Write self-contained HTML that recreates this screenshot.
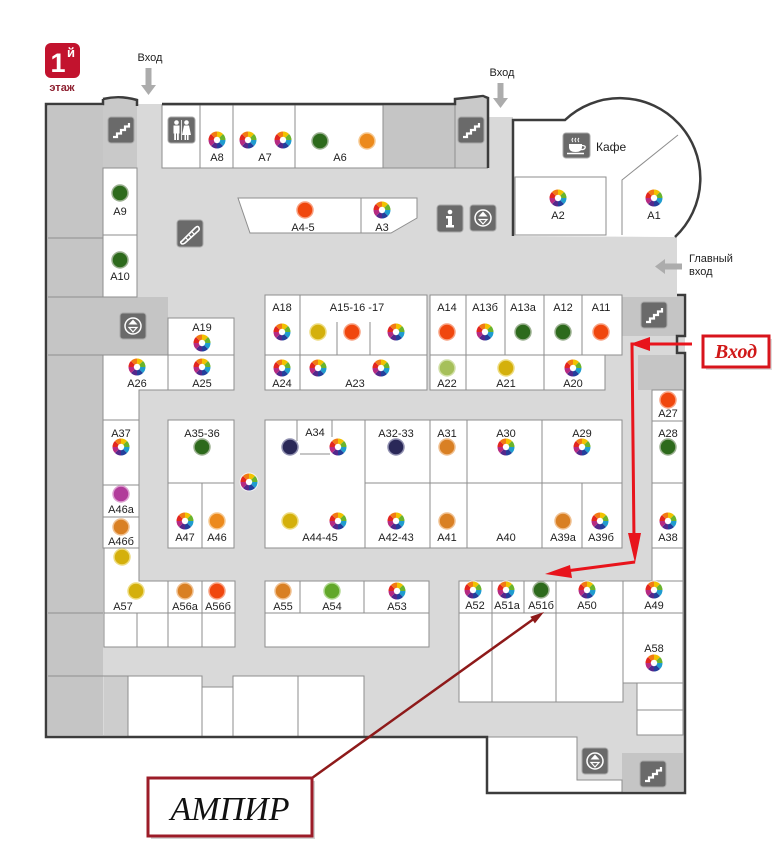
<!DOCTYPE html>
<html><head><meta charset="utf-8">
<style>
body{margin:0;background:#fff;}
svg{display:block}
.s{fill:#fff;stroke:#8e8e8e;stroke-width:1}
.l{stroke:#8e8e8e;stroke-width:1;fill:none}
.g{fill:#c5c5c5}
.t{font-family:"Liberation Sans",sans-serif;font-size:11px;fill:#1e1e1e;text-anchor:middle}
.w{fill:none;stroke:#3c3c3c;stroke-width:2.5;stroke-linejoin:miter}
</style></head>
<body>
<svg width="777" height="850" viewBox="0 0 777 850" xmlns="http://www.w3.org/2000/svg">
<defs>
<g id="cw">
<circle r="9.5" fill="#fff" opacity="0.7"/>
<path d="M0,0 L0,-8.5 A8.5,8.5 0 0 1 6.01,-6.01Z" fill="#f2c200"/>
<path d="M0,0 L6.01,-6.01 A8.5,8.5 0 0 1 8.5,0Z" fill="#6ab42c"/>
<path d="M0,0 L8.5,0 A8.5,8.5 0 0 1 6.01,6.01Z" fill="#1f9ccf"/>
<path d="M0,0 L6.01,6.01 A8.5,8.5 0 0 1 0,8.5Z" fill="#233f9c"/>
<path d="M0,0 L0,8.5 A8.5,8.5 0 0 1 -6.01,6.01Z" fill="#55288c"/>
<path d="M0,0 L-6.01,6.01 A8.5,8.5 0 0 1 -8.5,0Z" fill="#b62a82"/>
<path d="M0,0 L-8.5,0 A8.5,8.5 0 0 1 -6.01,-6.01Z" fill="#e3261f"/>
<path d="M0,0 L-6.01,-6.01 A8.5,8.5 0 0 1 0,-8.5Z" fill="#f27a14"/>
<circle r="3.2" fill="#fff"/>
</g>
<g id="st"><rect x="0" y="0" width="26" height="26" rx="3" fill="#6a6a6a" stroke="#a8a8a8" stroke-width="1"/><path d="M5,20 H9 V16.5 H13 V13 H17 V9.5 H21 V6" fill="none" stroke="#fff" stroke-width="2.2"/></g>
<g id="ud"><rect width="26" height="26" rx="3" fill="#6a6a6a" stroke="#a8a8a8"/><circle cx="13" cy="13" r="8" fill="none" stroke="#fff" stroke-width="1.5"/><path d="M8.5,11.5 L13,6.5 L17.5,11.5Z" fill="#fff"/><path d="M9,14.5 L13,19 L17,14.5Z" fill="none" stroke="#fff" stroke-width="1.2"/></g>
</defs>

<rect width="777" height="850" fill="#fff"/>

<!-- corridor -->
<path d="M46,104 H488 V117 H513 V235 L677,237 V295 H685 V793 H487 V737 H46 Z" fill="#d9d9d9"/>

<!-- gray rooms -->
<rect x="48" y="106" width="55" height="629" class="g"/>
<rect x="103" y="99" width="34" height="69" fill="#c9c9c9"/>
<rect x="383" y="105" width="72" height="63" class="g"/>
<rect x="455" y="98" width="33" height="70" fill="#c9c9c9"/>
<rect x="103" y="297" width="65" height="58" class="g"/>
<rect x="622" y="297" width="61" height="39" class="g"/>
<rect x="638" y="355" width="45" height="35" class="g"/>
<rect x="622" y="753" width="61" height="38" class="g"/>
<rect x="104" y="676" width="24" height="59" fill="#cdcdcd"/>
<g class="l" stroke="#a5a5a5">
<line x1="48" y1="238" x2="103" y2="238"/>
<line x1="48" y1="297" x2="103" y2="297"/>
<line x1="48" y1="355" x2="103" y2="355"/>
<line x1="48" y1="613" x2="103" y2="613"/>
<line x1="48" y1="676" x2="128" y2="676"/>
<line x1="103" y1="168" x2="137" y2="168"/>
<line x1="383" y1="105" x2="383" y2="168"/>
<line x1="455" y1="104" x2="455" y2="168"/>
<line x1="383" y1="168" x2="488" y2="168"/>
</g>

<!-- top row shops -->
<rect x="162" y="105" width="221" height="63" class="s"/>
<line x1="200" y1="105" x2="200" y2="168" class="l"/>
<line x1="233" y1="105" x2="233" y2="168" class="l"/>
<line x1="295" y1="105" x2="295" y2="168" class="l"/>
<rect x="103" y="168" width="34" height="67" class="s"/>
<rect x="103" y="235" width="34" height="62" class="s"/>

<!-- island -->
<path d="M238,198 H417 V218 L391,233 H250 Z" class="s"/>
<line x1="361" y1="198" x2="361" y2="233" class="l"/>

<!-- cafe -->
<path d="M513,236 V120 H565 A80,80 0 1 1 675,237 Z" fill="#fff"/>
<rect x="515" y="177" width="91" height="58" class="s"/>
<path d="M622,235 V180 L678,135" class="l"/>

<!-- mid top blocks -->
<rect x="265" y="295" width="162" height="95" class="s"/>
<line x1="265" y1="355" x2="427" y2="355" class="l"/>
<line x1="300" y1="295" x2="300" y2="390" class="l"/>
<line x1="337" y1="322" x2="337" y2="355" class="l"/>
<line x1="370" y1="322" x2="370" y2="355" class="l"/>
<path d="M430,295 H622 V355 H605 V390 H430 Z" class="s"/>
<line x1="430" y1="355" x2="622" y2="355" class="l"/>
<line x1="466" y1="295" x2="466" y2="390" class="l"/>
<line x1="505" y1="295" x2="505" y2="355" class="l"/>
<line x1="544" y1="295" x2="544" y2="390" class="l"/>
<line x1="582" y1="295" x2="582" y2="355" class="l"/>

<!-- left shops -->
<rect x="168" y="318" width="66" height="37" class="s"/>
<rect x="168" y="355" width="66" height="35" class="s"/>
<path d="M103,355 H168 V390 H139 V420 H103 Z" class="s"/>
<rect x="103" y="420" width="36" height="65" class="s"/>
<rect x="103" y="485" width="36" height="32" class="s"/>
<rect x="103" y="517" width="36" height="31" class="s"/>
<rect x="168" y="420" width="66" height="63" class="s"/>
<rect x="168" y="483" width="34" height="65" class="s"/>
<rect x="202" y="483" width="32" height="65" class="s"/>

<!-- center lower block -->
<rect x="265" y="420" width="357" height="128" class="s"/>
<line x1="365" y1="420" x2="365" y2="548" class="l"/>
<line x1="365" y1="483" x2="622" y2="483" class="l"/>
<line x1="430" y1="420" x2="430" y2="548" class="l"/>
<line x1="467" y1="420" x2="467" y2="548" class="l"/>
<line x1="542" y1="420" x2="542" y2="548" class="l"/>
<line x1="582" y1="483" x2="582" y2="548" class="l"/>
<line x1="297" y1="420" x2="297" y2="441" class="l"/>
<line x1="332" y1="420" x2="332" y2="437" class="l"/>
<line x1="300" y1="454" x2="330" y2="454" class="l"/>

<!-- right column -->
<rect x="652" y="390" width="31" height="158" class="s"/>
<line x1="652" y1="421" x2="683" y2="421" class="l"/>
<line x1="652" y1="483" x2="683" y2="483" class="l"/>
<rect x="652" y="548" width="31" height="33" class="s"/>

<!-- bottom left -->
<path d="M104,548 H139 V581 H235 V647 H104 Z" class="s"/>
<line x1="104" y1="613" x2="235" y2="613" class="l"/>
<line x1="168" y1="581" x2="168" y2="647" class="l"/>
<line x1="202" y1="581" x2="202" y2="647" class="l"/>
<line x1="137" y1="613" x2="137" y2="647" class="l"/>
<rect x="265" y="581" width="164" height="66" class="s"/>
<line x1="265" y1="613" x2="429" y2="613" class="l"/>
<line x1="300" y1="581" x2="300" y2="613" class="l"/>
<line x1="364" y1="581" x2="364" y2="613" class="l"/>
<rect x="128" y="676" width="74" height="61" class="s"/>
<rect x="202" y="687" width="31" height="50" class="s"/>
<rect x="233" y="676" width="65" height="61" class="s"/>
<rect x="298" y="676" width="66" height="61" class="s"/>

<!-- bottom right -->
<rect x="459" y="581" width="224" height="32" class="s"/>
<line x1="492" y1="581" x2="492" y2="613" class="l"/>
<line x1="524" y1="581" x2="524" y2="613" class="l"/>
<line x1="556" y1="581" x2="556" y2="613" class="l"/>
<line x1="623" y1="581" x2="623" y2="613" class="l"/>
<rect x="459" y="613" width="164" height="89" class="s"/>
<line x1="492" y1="613" x2="492" y2="702" class="l"/>
<line x1="556" y1="613" x2="556" y2="702" class="l"/>
<rect x="623" y="613" width="60" height="70" class="s"/>
<rect x="637" y="683" width="46" height="27" class="s"/>
<rect x="637" y="710" width="46" height="25" class="s"/>
<path d="M487,737 H577 V780 H622 V793 H487 Z" class="s"/>

<!-- walls -->
<path class="w" d="M103,99 V104 H46 V737 H487 V793 H685 V353 H677 V336 H685 V295 H677"/>
<path class="w" d="M103,99 Q120,95 137,100 V106"/>
<path class="w" d="M162,104 H455 V99 L483,96 L488,98 V168"/>
<path class="w" d="M513,236 V120 H565 A80,80 0 1 1 675,237"/>

<!-- icons -->
<use href="#st" x="108" y="117"/>
<use href="#st" x="458" y="117"/>
<use href="#st" x="641" y="302"/>
<use href="#st" x="640" y="761"/>
<use href="#ud" x="470" y="205"/>
<use href="#ud" x="120" y="313"/>
<use href="#ud" x="582" y="748"/>
<!-- WC -->
<g transform="translate(168,117)">
<rect width="27" height="26" rx="3" fill="#6a6a6a" stroke="#a8a8a8"/>
<circle cx="8.5" cy="5.5" r="2.3" fill="#fff"/><rect x="5.5" y="8.5" width="6" height="8" fill="#fff"/><rect x="6.2" y="16" width="1.8" height="7" fill="#fff"/><rect x="9" y="16" width="1.8" height="7" fill="#fff"/>
<circle cx="18.5" cy="5.5" r="2.3" fill="#fff"/><path d="M16,8.5 H21 L23,18 H14 Z" fill="#fff"/><rect x="16.5" y="17" width="1.6" height="6" fill="#fff"/><rect x="19" y="17" width="1.6" height="6" fill="#fff"/>
<line x1="13.5" y1="3" x2="13.5" y2="23" stroke="#fff" stroke-width="0.8"/>
</g>
<!-- escalator -->
<g transform="translate(177,220)">
<rect width="26" height="27" rx="3" fill="#6a6a6a" stroke="#a8a8a8"/>
<path d="M5,21 L18,8 Q21,5 22,8 Q23,10 20,12 L8,23 Q5,25 4,23 Q3,22 5,21Z" fill="none" stroke="#fff" stroke-width="1.6"/>
<path d="M9,18 L11,20 M12,15 L14,17 M15,12 L17,14" stroke="#fff" stroke-width="1.2"/>
</g>
<!-- info -->
<g transform="translate(437,205)">
<rect width="26" height="27" rx="3" fill="#6a6a6a" stroke="#a8a8a8"/>
<circle cx="13" cy="7" r="2.3" fill="#fff"/>
<path d="M9,11 H15 V20 H17 V22.5 H9 V20 H11 V13.5 H9 Z" fill="#fff"/>
</g>
<!-- coffee -->
<g transform="translate(563,133)">
<rect width="27" height="25" rx="3" fill="#6a6a6a" stroke="#a8a8a8"/>
<path d="M6,11 H19 V14 Q19,19 12.5,19 Q6,19 6,14 Z" fill="#fff"/>
<path d="M19,12.5 Q23,12.5 22,15 Q21,17 18,16.5" fill="none" stroke="#fff" stroke-width="1.3"/>
<path d="M4,20.5 H21" stroke="#fff" stroke-width="1.5"/>
<path d="M10,9 Q8,7 10,5 M13,9 Q11,7 13,5 M16,9 Q14,7 16,5" fill="none" stroke="#fff" stroke-width="1"/>
</g>

<!-- floor badge -->
<rect x="45" y="43" width="35" height="35" rx="6" fill="#c2132e"/>
<text x="58" y="72" font-family="Liberation Sans,sans-serif" font-weight="bold" font-size="27" fill="#fff" text-anchor="middle">1</text>
<text x="71" y="57" font-family="Liberation Sans,sans-serif" font-weight="bold" font-size="13" fill="#fff" text-anchor="middle">й</text>
<text x="62" y="91" font-family="Liberation Sans,sans-serif" font-weight="bold" font-size="11" fill="#8e2030" text-anchor="middle">этаж</text>

<!-- entrance labels and gray arrows -->
<text x="150" y="61" class="t" font-size="11">Вход</text>
<path d="M145.5,68 H151.5 V85 H156 L148.5,95 L141,85 H145.5 Z" fill="#acacac"/>
<text x="502" y="76" class="t" font-size="11">Вход</text>
<path d="M497.5,83 H503.5 V98 H508 L500.5,108 L493,98 H497.5 Z" fill="#acacac"/>
<text x="689" y="262" font-family="Liberation Sans,sans-serif" font-size="11" fill="#1e1e1e">Главный</text>
<text x="689" y="275" font-family="Liberation Sans,sans-serif" font-size="11" fill="#1e1e1e">вход</text>
<path d="M682,263.5 V269.5 H665 V274 L655,266.5 L665,259 V263.5 Z" fill="#acacac"/>
<text x="596" y="151" font-family="Liberation Sans,sans-serif" font-size="12" fill="#1e1e1e">Кафе</text>

<!-- dots: color wheels -->
<use href="#cw" x="217" y="140"/>
<use href="#cw" x="248" y="140"/>
<use href="#cw" x="283" y="140"/>
<use href="#cw" x="382" y="210"/>
<use href="#cw" x="558" y="198"/>
<use href="#cw" x="654" y="198"/>
<use href="#cw" x="282" y="332"/>
<use href="#cw" x="396" y="332"/>
<use href="#cw" x="282" y="368"/>
<use href="#cw" x="318" y="368"/>
<use href="#cw" x="381" y="368"/>
<use href="#cw" x="485" y="332"/>
<use href="#cw" x="573" y="368"/>
<use href="#cw" x="202" y="343"/>
<use href="#cw" x="137" y="367"/>
<use href="#cw" x="202" y="367"/>
<use href="#cw" x="121" y="447"/>
<use href="#cw" x="185" y="521"/>
<use href="#cw" x="249" y="482"/>
<use href="#cw" x="338" y="447"/>
<use href="#cw" x="338" y="521"/>
<use href="#cw" x="396" y="521"/>
<use href="#cw" x="506" y="447"/>
<use href="#cw" x="582" y="447"/>
<use href="#cw" x="600" y="521"/>
<use href="#cw" x="668" y="521"/>
<use href="#cw" x="397" y="591"/>
<use href="#cw" x="473" y="590"/>
<use href="#cw" x="506" y="590"/>
<use href="#cw" x="587" y="590"/>
<use href="#cw" x="654" y="590"/>
<use href="#cw" x="654" y="663"/>

<!-- solid dots -->
<g stroke-width="1.5">
<circle cx="320" cy="141" r="8" fill="#2d6a1c" stroke="#9bb090"/>
<circle cx="367" cy="141" r="8" fill="#ec8a1c" stroke="#f6c890"/>
<circle cx="120" cy="193" r="8" fill="#2d6a1c" stroke="#9bb090"/>
<circle cx="120" cy="260" r="8" fill="#2d6a1c" stroke="#9bb090"/>
<circle cx="305" cy="210" r="8" fill="#f0470e" stroke="#f8a080"/>
<circle cx="318" cy="332" r="8" fill="#d4b00c" stroke="#eedc80"/>
<circle cx="352" cy="332" r="8" fill="#f0470e" stroke="#f8a080"/>
<circle cx="447" cy="332" r="8" fill="#f0470e" stroke="#f8a080"/>
<circle cx="523" cy="332" r="8" fill="#2d6a1c" stroke="#9bb090"/>
<circle cx="563" cy="332" r="8" fill="#2d6a1c" stroke="#9bb090"/>
<circle cx="601" cy="332" r="8" fill="#f0470e" stroke="#f8a080"/>
<circle cx="447" cy="368" r="8" fill="#a6c05a" stroke="#d2e0a8"/>
<circle cx="506" cy="368" r="8" fill="#d4b00c" stroke="#eedc80"/>
<circle cx="121" cy="494" r="8" fill="#b13c9a" stroke="#dca0d0"/>
<circle cx="121" cy="527" r="8" fill="#d98024" stroke="#f0c090"/>
<circle cx="122" cy="557" r="8" fill="#d4b00c" stroke="#eedc80"/>
<circle cx="202" cy="447" r="8" fill="#2d6a1c" stroke="#9bb090"/>
<circle cx="217" cy="521" r="8" fill="#ec8a1c" stroke="#f6c890"/>
<circle cx="290" cy="447" r="8" fill="#2a2858" stroke="#9090b0"/>
<circle cx="396" cy="447" r="8" fill="#2a2858" stroke="#9090b0"/>
<circle cx="290" cy="521" r="8" fill="#d4b00c" stroke="#eedc80"/>
<circle cx="447" cy="447" r="8" fill="#d98024" stroke="#f0c090"/>
<circle cx="447" cy="521" r="8" fill="#d98024" stroke="#f0c090"/>
<circle cx="563" cy="521" r="8" fill="#d98024" stroke="#f0c090"/>
<circle cx="668" cy="400" r="8" fill="#f0470e" stroke="#f8a080"/>
<circle cx="668" cy="447" r="8" fill="#2d6a1c" stroke="#9bb090"/>
<circle cx="136" cy="591" r="8" fill="#d4b00c" stroke="#eedc80"/>
<circle cx="185" cy="591" r="8" fill="#d98024" stroke="#f0c090"/>
<circle cx="217" cy="591" r="8" fill="#f0470e" stroke="#f8a080"/>
<circle cx="283" cy="591" r="8" fill="#d98024" stroke="#f0c090"/>
<circle cx="332" cy="591" r="8" fill="#62a82a" stroke="#b0d890"/>
<circle cx="541" cy="590" r="8" fill="#2d6a1c" stroke="#9bb090"/>
</g>

<!-- labels -->
<g class="t">
<text x="217" y="161">А8</text>
<text x="265" y="161">А7</text>
<text x="340" y="161">А6</text>
<text x="120" y="215">А9</text>
<text x="120" y="280">А10</text>
<text x="303" y="231">А4-5</text>
<text x="382" y="231">А3</text>
<text x="558" y="219">А2</text>
<text x="654" y="219">А1</text>
<text x="282" y="311">А18</text>
<text x="357" y="311">А15-16 -17</text>
<text x="447" y="311">А14</text>
<text x="485" y="311">А13б</text>
<text x="523" y="311">А13а</text>
<text x="563" y="311">А12</text>
<text x="601" y="311">А11</text>
<text x="282" y="387">А24</text>
<text x="355" y="387">А23</text>
<text x="447" y="387">А22</text>
<text x="506" y="387">А21</text>
<text x="573" y="387">А20</text>
<text x="202" y="331">А19</text>
<text x="137" y="387">А26</text>
<text x="202" y="387">А25</text>
<text x="121" y="437">А37</text>
<text x="121" y="513">А46а</text>
<text x="121" y="545">А46б</text>
<text x="202" y="437">А35-36</text>
<text x="185" y="541">А47</text>
<text x="217" y="541">А46</text>
<text x="315" y="436">А34</text>
<text x="320" y="541">А44-45</text>
<text x="396" y="437">А32-33</text>
<text x="396" y="541">А42-43</text>
<text x="447" y="437">А31</text>
<text x="447" y="541">А41</text>
<text x="506" y="437">А30</text>
<text x="506" y="541">А40</text>
<text x="582" y="437">А29</text>
<text x="563" y="541">А39а</text>
<text x="601" y="541">А39б</text>
<text x="668" y="417">А27</text>
<text x="668" y="437">А28</text>
<text x="668" y="541">А38</text>
<text x="123" y="610">А57</text>
<text x="185" y="610">А56а</text>
<text x="218" y="610">А56б</text>
<text x="283" y="610">А55</text>
<text x="332" y="610">А54</text>
<text x="397" y="610">А53</text>
<text x="475" y="609">А52</text>
<text x="507" y="609">А51а</text>
<text x="541" y="609">А51б</text>
<text x="587" y="609">А50</text>
<text x="654" y="609">А49</text>
<text x="654" y="652">А58</text>
</g>

<!-- red route arrows -->
<g stroke="#e8141c" stroke-width="3" fill="none">
<line x1="692" y1="344" x2="645" y2="344"/>
<path d="M638,344 H632 L634,540"/>
<line x1="635" y1="562" x2="566" y2="571"/>
</g>
<g fill="#e8141c">
<polygon points="630,344 650,337 650,351"/>
<polygon points="635,563 628,533 641,533"/>
<polygon points="545,574 570,565 572,578"/>
</g>

<!-- Вход box -->
<rect x="706" y="339" width="66" height="31" fill="#bbb" opacity="0.5"/>
<rect x="703" y="336" width="66" height="31" fill="#fff" stroke="#d8141c" stroke-width="3"/>
<text x="736" y="358" font-family="Liberation Serif,serif" font-style="italic" font-weight="bold" font-size="20" fill="#d01818" text-anchor="middle">Вход</text>

<!-- АМПИР pointer -->
<line x1="312" y1="778" x2="535" y2="618" stroke="#8e1a1a" stroke-width="2.5"/>
<polygon points="544,612 534.9,623.4 530.3,616.8" fill="#8e1a1a"/>
<rect x="151" y="781" width="164" height="58" fill="#aaa" opacity="0.5"/>
<rect x="148" y="778" width="164" height="58" fill="#fff" stroke="#9c1c28" stroke-width="3"/>
<text x="230" y="820" font-family="Liberation Serif,serif" font-style="italic" font-size="34" fill="#111" text-anchor="middle">АМПИР</text>
</svg>
</body></html>
